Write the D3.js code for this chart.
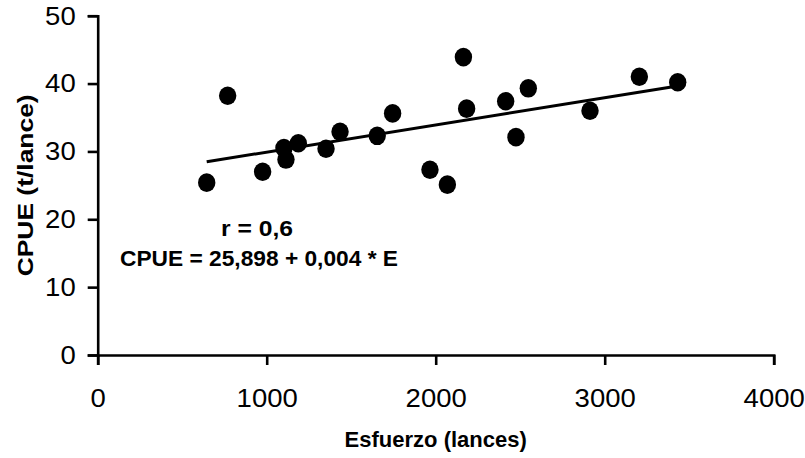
<!DOCTYPE html>
<html>
<head>
<meta charset="utf-8">
<script src="https://cdn.jsdelivr.net/npm/d3@7"></script>
<style>
  html, body { margin: 0; padding: 0; background: #fff; }
  svg { display: block; font-family: "Liberation Sans", Arial, sans-serif; }
</style>
</head>
<body>
<div id="chart"></div>
<script>
const esfuerzo = [645, 769, 976, 1102, 1114, 1187, 1351, 1434, 1654, 1745, 1966, 2069, 2164, 2183, 2414, 2475, 2548, 2913, 3205, 3432]
const cpue = [25.4, 38.2, 27.0, 30.5, 28.8, 31.2, 30.4, 32.9, 32.3, 35.6, 27.3, 25.1, 43.9, 36.3, 37.4, 32.1, 39.3, 36.0, 41.0, 40.2]
const xTicks = [0, 1000, 2000, 3000, 4000]
const yTicks = [0, 10, 20, 30, 40, 50]
const intercept = 25.898, slope = 0.004
const labels = {x: "Esfuerzo (lances)", y: "CPUE (t/lance)", r: "r = 0,6", eq: "CPUE = 25,898 + 0,004 * E"}

const width = 805, height = 458
const conf = {ml: 97.7, mr: 31.3, mt: 15.7, mb: 103}
const digitW = 15.3

const points = esfuerzo.map((e, i) => ({x: e, value: cpue[i]}))

const svg = d3.select("#chart")
  .append("svg")
    .attr("width", width)
    .attr("height", height)
    .attr("viewBox", [0, 0, width, height])

const xAxis = d3.scaleLinear()
    .domain([0, 4000])
    .range([conf.ml, width - conf.mr]),
  yAxis = d3.scaleLinear()
    .domain([0, 50])
    .range([height - conf.mb, conf.mt])

svg.append("g")
    .attr("class", "xAxes")
    .attr("transform", `translate(0,${height - conf.mb})`)
    .call(d3.axisBottom(xAxis).tickValues(xTicks).tickFormat(d3.format("d")).tickSize(10).tickSizeOuter(10))
    .call(g => g.selectAll("path, line").attr("stroke", "#000").attr("stroke-width", 2.6))
    .call(g => g.selectAll("text")
        .attr("fill", "#000")
        .attr("font-size", 26)
        .attr("y", 52)
        .attr("dy", 0)
        .attr("textLength", d => String(d).length * digitW)
        .attr("lengthAdjust", "spacingAndGlyphs")
        .attr("font-family", "Liberation Sans, Arial, sans-serif"))

svg.append("g")
    .attr("class", "yAxes")
    .attr("transform", `translate(${conf.ml},0)`)
    .call(d3.axisLeft(yAxis).tickValues(yTicks).tickSize(10).tickSizeOuter(10).tickPadding(12))
    .call(g => g.selectAll("path, line").attr("stroke", "#000").attr("stroke-width", 2.6))
    .call(g => g.selectAll("text")
        .attr("fill", "#000")
        .attr("font-size", 26)
        .attr("textLength", d => String(d).length * digitW)
        .attr("lengthAdjust", "spacingAndGlyphs")
        .attr("font-family", "Liberation Sans, Arial, sans-serif"))

// regression line over the range of the data
const ext = d3.extent(esfuerzo)
svg.append("path")
    .datum(ext.map(e => ({x: e, value: intercept + slope * e})))
    .attr("fill", "none")
    .attr("stroke", "#000")
    .attr("stroke-width", 3)
    .attr("d", d3.line().x(d => xAxis(d.x)).y(d => yAxis(d.value)))

svg.append("g")
    .attr("class", "markers")
  .selectAll("ellipse")
  .data(points)
  .enter()
  .append("ellipse")
    .attr("cx", d => xAxis(d.x))
    .attr("cy", d => yAxis(d.value))
    .attr("rx", 8.7)
    .attr("ry", 9.3)
    .attr("fill", "#000")

svg.append("text")
    .attr("x", (xAxis(0) + xAxis(4000)) / 2)
    .attr("y", 447)
    .attr("text-anchor", "middle")
    .attr("font-size", 22)
    .attr("font-weight", "bold")
    .text(labels.x)

svg.append("text")
    .attr("transform", `translate(33,${(yAxis(0) + yAxis(50)) / 2}) rotate(-90)`)
    .attr("text-anchor", "middle")
    .attr("font-size", 22)
    .attr("font-weight", "bold")
    .attr("textLength", 182)
    .attr("lengthAdjust", "spacingAndGlyphs")
    .text(labels.y)

svg.append("text")
    .attr("x", 221)
    .attr("y", 236)
    .attr("font-size", 22)
    .attr("font-weight", "bold")
    .attr("textLength", 72)
    .attr("lengthAdjust", "spacingAndGlyphs")
    .text(labels.r)

svg.append("text")
    .attr("x", 120)
    .attr("y", 266)
    .attr("font-size", 22)
    .attr("font-weight", "bold")
    .attr("textLength", 278)
    .attr("lengthAdjust", "spacingAndGlyphs")
    .text(labels.eq)
</script>
</body>
</html>
